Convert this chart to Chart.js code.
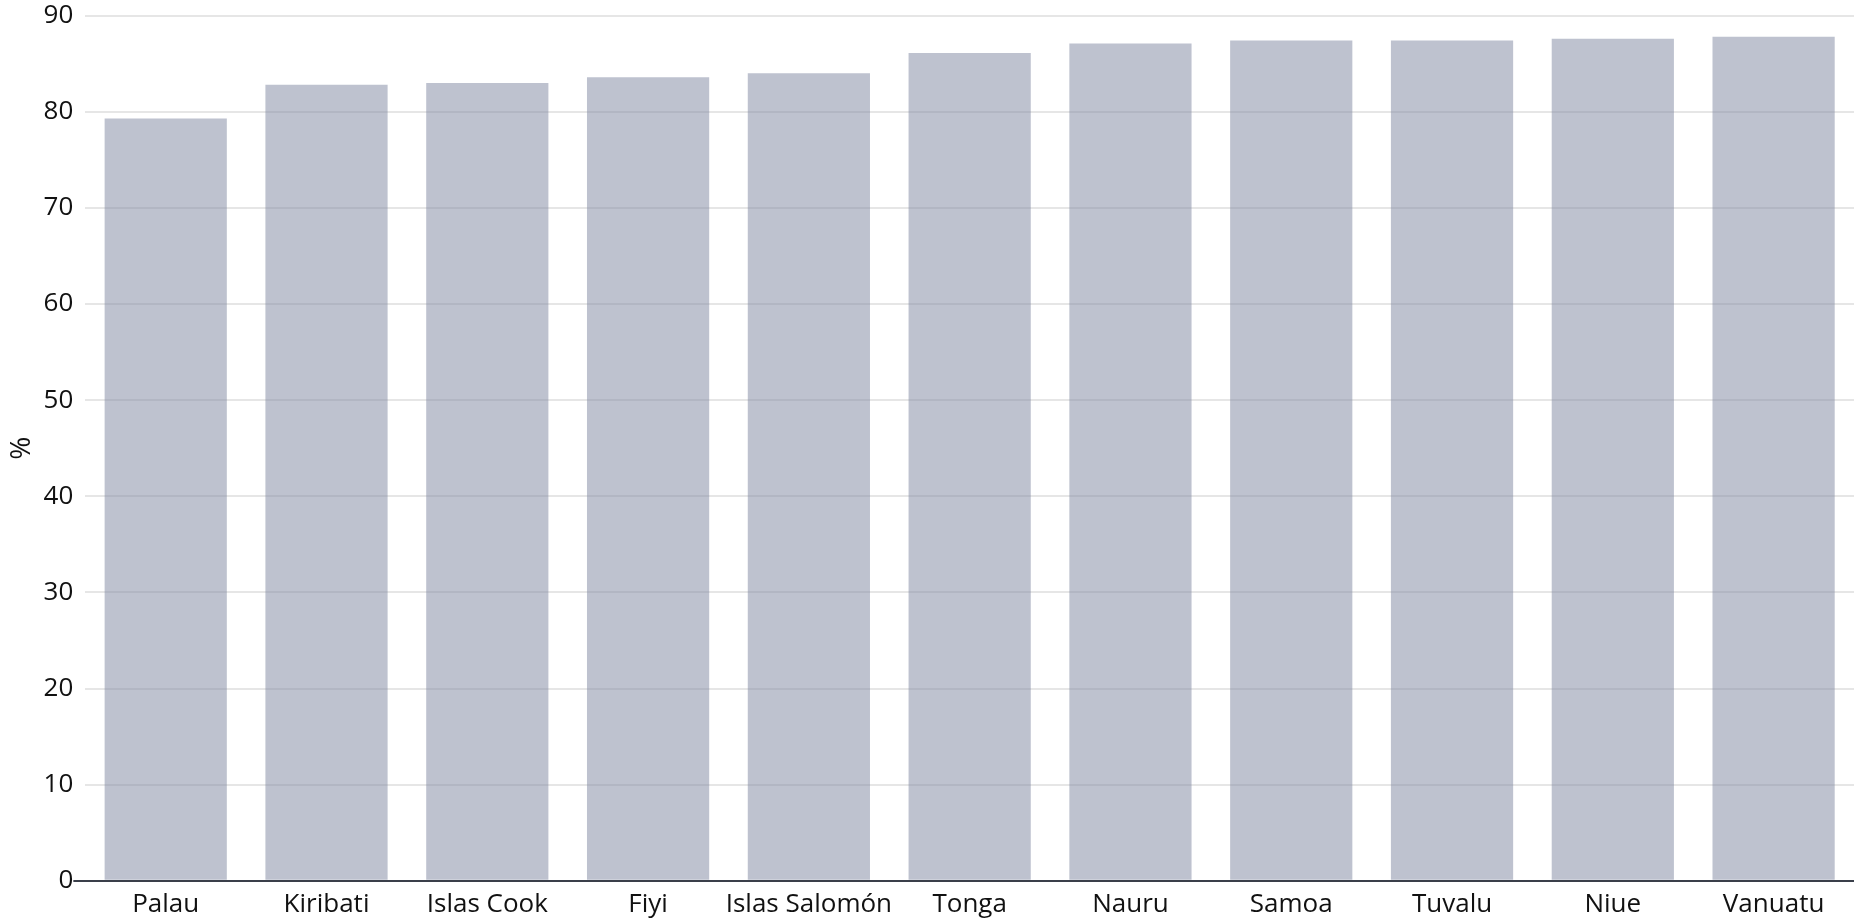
<!DOCTYPE html>
<html>
<head>
<meta charset="utf-8">
<script src="https://cdn.jsdelivr.net/npm/chart.js@4"></script>
<style>
    html, body { margin: 0; padding: 0; background: #fff; }
    #wrap { width: 1854px; height: 920px; }
</style>
</head>
<body>
<div id="wrap"><canvas id="barChart"></canvas></div>
<script>
const paises = ['Palau', 'Kiribati', 'Islas Cook', 'Fiyi', 'Islas Salomón', 'Tonga', 'Nauru', 'Samoa', 'Tuvalu', 'Niue', 'Vanuatu'];
const valores = [79.3, 82.8, 83.0, 83.6, 84.0, 86.1, 87.1, 87.4, 87.4, 87.6, 87.8];
const yTicks = [0, 10, 20, 30, 40, 50, 60, 70, 80, 90];

document.addEventListener('DOMContentLoaded', function () {
    const ctx = document.getElementById('barChart').getContext('2d');
    const fuente = { family: '"Open Sans", Lato, sans-serif', size: 26 };

    new Chart(ctx, {
        type: 'bar',
        data: {
            labels: paises,
            datasets: [{
                data: valores,
                backgroundColor: 'rgba(125, 133, 159, 0.5)',
                borderWidth: 0,
                categoryPercentage: 0.76,
                barPercentage: 1
            }]
        },
        options: {
            responsive: true,
            maintainAspectRatio: false,
            animation: false,
            layout: { padding: { top: 3, right: 0, left: 0, bottom: 0 } },
            scales: {
                x: {
                    grid: { display: false },
                    border: { display: true, color: '#3a3f4a', width: 2 },
                    ticks: { color: '#111', font: fuente, padding: 0, maxRotation: 0, autoSkip: false }
                },
                y: {
                    min: 0,
                    max: 90,
                    afterBuildTicks: function (axis) {
                        axis.ticks = yTicks.map(v => ({ value: v }));
                    },
                    grid: {
                        color: '#e6e6e6',
                        lineWidth: 2,
                        tickLength: 12,
                        tickColor: c => c.tick && c.tick.value === 0 ? '#3a3f4a' : 'rgba(0,0,0,0)'
                    },
                    border: { display: false },
                    ticks: { color: '#111', font: fuente, padding: 0 },
                    title: { display: true, text: '%', color: '#111', font: { family: fuente.family, size: 28 }, padding: 5 }
                }
            },
            plugins: {
                legend: { display: false },
                tooltip: { enabled: false }
            }
        }
    });
});
</script>
</body>
</html>
